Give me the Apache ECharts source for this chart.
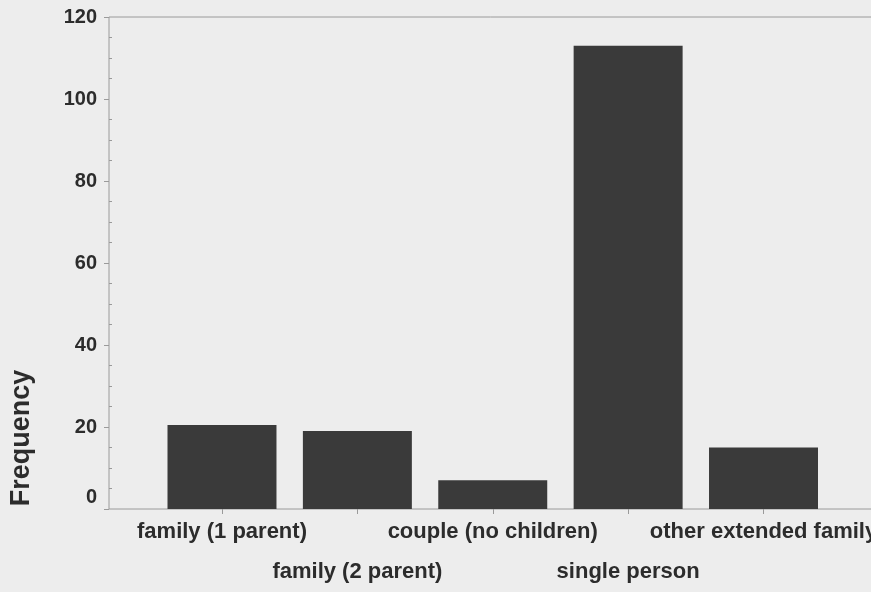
<!DOCTYPE html>
<html>
<head>
<meta charset="utf-8">
<script src="https://cdn.jsdelivr.net/npm/echarts@6/dist/echarts.min.js"></script>
<style>
html,body{margin:0;padding:0;background:#ededed;}
#chart{width:871px;height:592px;}
</style>
</head>
<body>
<div id="chart"></div>
<script>
const categories = ['family (1 parent)', 'family (2 parent)', 'couple (no children)', 'single person', 'other extended family'];
const frequencies = [20.5, 19, 7, 113, 15];
const yTickMin = 0, yTickMax = 120, yTickStep = 20;
const yTitle = 'Frequency';

const font = 'Liberation Sans, Arial, sans-serif';
const textColor = '#2c2c2c';
const lineColor = '#9a9a9a';

const chart = echarts.init(document.getElementById('chart'));
chart.setOption({
  backgroundColor: '#ededed',
  animation: false,
  grid: [
    { left: 154.3, right: 39.8, top: 17, bottom: 83, show: false, containLabel: false, outerBoundsMode: 'none' },
    { left: 109, right: -3, top: 17, bottom: 83, show: true, borderColor: lineColor, borderWidth: 1, backgroundColor: 'transparent', containLabel: false, outerBoundsMode: 'none' }
  ],
  xAxis: [
    {
      type: 'category', gridIndex: 0, data: categories, boundaryGap: true,
      axisLine: { show: false },
      axisTick: { show: true, alignWithLabel: true, length: 5, lineStyle: { color: lineColor } },
      axisLabel: {
        interval: 0, margin: 3, color: textColor, fontFamily: font, fontSize: 22, fontWeight: 'bold',
        lineHeight: 40,
        formatter: function (v, i) { return i % 2 === 1 ? '\n' + v : v; }
      }
    },
    { type: 'value', gridIndex: 1, show: false, min: 0, max: 1 }
  ],
  yAxis: [
    { type: 'value', gridIndex: 0, min: yTickMin, max: yTickMax, interval: yTickStep, show: false },
    {
      type: 'value', gridIndex: 1, position: 'left', min: yTickMin, max: yTickMax, interval: yTickStep,
      axisLine: { show: false },
      axisTick: { show: true, length: 5, lineStyle: { color: lineColor } },
      splitLine: { show: false },
      axisLabel: {
        margin: 12, color: textColor, fontFamily: font, fontSize: 20, fontWeight: 'bold',
        formatter: function (v) { return v === 0 ? '{z|0}' : String(v); },
        rich: { z: { fontFamily: font, fontSize: 20, fontWeight: 'bold', color: textColor, padding: [0, 0, 24, 0] } }
      },
      name: yTitle, nameLocation: 'middle', nameRotate: 90, nameGap: 74,
      nameTextStyle: { fontFamily: font, fontSize: 27, fontWeight: 'bold', color: textColor, padding: [0, 350, 0, 0] }
    },
    {
      type: 'value', gridIndex: 1, position: 'left', offset: 0, min: yTickMin, max: yTickMax, interval: yTickStep,
      axisLine: { show: false }, axisLabel: { show: false }, splitLine: { show: false },
      axisTick: { show: false, inside: true },
      minorTick: { show: true, splitNumber: 4, length: 3, lineStyle: { color: lineColor } }
    }
  ],
  series: [
    {
      type: 'bar', xAxisIndex: 0, yAxisIndex: 0, data: frequencies,
      barWidth: '80.5%',
      itemStyle: { color: '#3a3a3a' }
    }
  ]
});
</script>
</body>
</html>
